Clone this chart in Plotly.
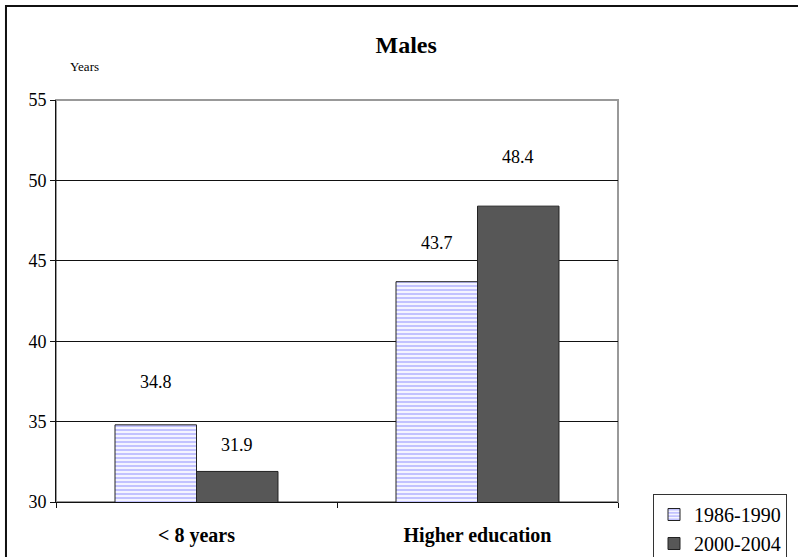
import plotly.graph_objects as go

# Males, by education level
categories = ["< 8 years", "Higher education"]
series_names = ["1986-1990", "2000-2004"]
values_1986_1990 = [34.8, 43.7]
values_2000_2004 = [31.9, 48.4]
y_ticks = [30, 35, 40, 45, 50, 55]

SERIF = "Liberation Serif"
BAR_GAP = 0.42

fig = go.Figure()

fig.add_trace(go.Bar(
    name=series_names[0],
    x=categories,
    y=values_1986_1990,
    marker=dict(
        color="white",
        pattern=dict(shape="-", fgcolor="#8f8fff", bgcolor="#f4f4ff", size=4, solidity=0.5),
        line=dict(color="#222222", width=1),
    ),
    legendgroup="a",
))
fig.add_trace(go.Bar(
    name=series_names[1],
    x=categories,
    y=values_2000_2004,
    marker=dict(color="#575757", line=dict(color="#222222", width=1)),
    legendgroup="b",
))

# Value labels floating above each bar
label_lift = [[43, 39], [26, 49]]
half = (1 - BAR_GAP) / 4
for s, (vals, off) in enumerate([(values_1986_1990, -half), (values_2000_2004, half)]):
    for i, v in enumerate(vals):
        fig.add_annotation(
            x=i + off, y=v, xref="x", yref="y",
            text=f"{v:.1f}", showarrow=False,
            yanchor="middle", yshift=label_lift[s][i],
            font=dict(family=SERIF, size=18),
        )

# Axis caption
fig.add_annotation(
    x=0.021, y=1.107, xref="paper", yref="paper",
    text="Years", showarrow=False,
    font=dict(family=SERIF, size=13),
)

# Gray frame on the plot area (top and right edges remain visible)
fig.add_shape(type="rect", xref="paper", yref="paper", x0=0, y0=0, x1=1, y1=1,
              line=dict(color="#999999", width=2), layer="below")
# Outer chart border
fig.add_shape(type="rect", xref="paper", yref="paper",
              x0=-0.089, y0=-0.2, x1=1.4, y1=1.234,
              line=dict(color="#111111", width=2), layer="below")

fig.update_layout(
    width=798, height=557,
    margin=dict(l=56, r=180, t=100, b=55, autoexpand=False),
    paper_bgcolor="white", plot_bgcolor="white",
    font=dict(family=SERIF, color="black"),
    barmode="group", bargap=BAR_GAP, bargroupgap=0,
    title=dict(
        text="<b>Males</b>", x=0.509, xref="container", xanchor="center",
        y=1 - 45 / 557, yref="container", yanchor="middle",
        font=dict(family=SERIF, size=24),
    ),
    legend=dict(
        x=653 / 798, y=1 - 494 / 557, xref="container", yref="container",
        xanchor="left", yanchor="top",
        bordercolor="#333333", borderwidth=1, bgcolor="white",
        font=dict(family=SERIF, size=20),
        tracegroupgap=6, traceorder="normal",
    ),
    xaxis=dict(
        showline=True, linecolor="#111111", linewidth=1,
        ticks="outside", ticklen=5, tickcolor="#111111", tickson="boundaries",
        tickfont=dict(family=SERIF, size=20, weight="bold"),
        ticklabelstandoff=15,
        showgrid=False, automargin=False,
    ),
    yaxis=dict(
        range=[30, 55], tickvals=y_ticks,
        showline=True, linecolor="#111111", linewidth=1,
        ticks="outside", ticklen=5, tickcolor="#111111",
        tickfont=dict(family=SERIF, size=18),
        showgrid=True, gridcolor="#111111", gridwidth=1,
        zeroline=False, automargin=False,
    ),
)

fig.write_html("out.html")
